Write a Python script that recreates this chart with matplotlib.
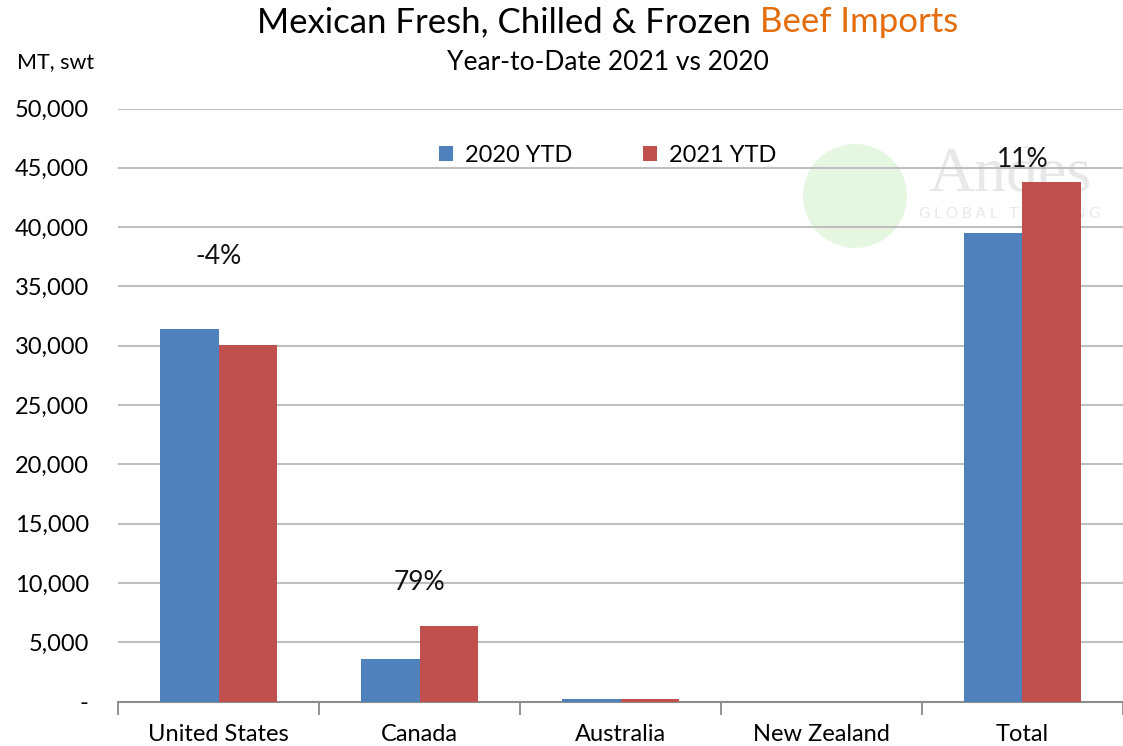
import matplotlib.pyplot as plt
import numpy as np
from matplotlib.patches import Ellipse
from matplotlib.ticker import FuncFormatter

# Mexican beef imports, metric tons shipped weight
countries = ['United States', 'Canada', 'Australia', 'New Zealand', 'Total']
ytd_2020 = [31400, 3550, 180, 0, 39500]
ytd_2021 = [30050, 6350, 190, 0, 43800]
change_labels = ['-4%', '79%', '', '', '11%']
label_y = [37500, 10000, None, None, 45700]

blue = '#4F81BD'
red = '#C0504D'
orange = '#E46C0A'
font = 'Lato'

plt.rcParams['font.family'] = [font, 'DejaVu Sans']

fig = plt.figure(figsize=(11.23, 7.46), dpi=100)
ax = fig.add_axes([118 / 1123, 1 - 701.5 / 746, 1 - 118 / 1123, (701.5 - 108.5) / 746])
ax.set_facecolor('none')

x = np.arange(len(countries))
w = 0.29
ax.bar(x - w / 2, ytd_2020, w, color=blue, label='2020 YTD', zorder=3)
ax.bar(x + w / 2, ytd_2021, w, color=red, label='2021 YTD', zorder=3)

for xi, txt, yy in zip(x, change_labels, label_y):
    if txt:
        ax.text(xi, yy, txt, ha='center', va='center', fontsize=19, color='#111111')

ax.set_xlim(-0.5, len(countries) - 0.5)
ax.set_ylim(0, 50000)
ax.set_yticks(np.arange(0, 50001, 5000))
ax.yaxis.set_major_formatter(FuncFormatter(lambda v, p: '-' if v == 0 else f'{v:,.0f}'))
ax.grid(axis='y', color='#BFBFBF', linewidth=1.5, zorder=0)
ax.set_axisbelow(True)

ax.set_xticks(x)
ax.set_xticklabels(countries, fontsize=17)
ax.set_xticks(np.arange(-0.5, len(countries)), minor=True)
ax.tick_params(axis='x', which='major', length=0, pad=16)
ax.tick_params(axis='x', which='minor', length=9, color='#7F7F7F', width=1.2)
ax.tick_params(axis='y', length=0, pad=21, labelsize=17)
for side in ['top', 'right', 'left']:
    ax.spines[side].set_visible(False)
ax.spines['bottom'].set_color('#8C8C8C')
ax.spines['bottom'].set_linewidth(1.5)

ax.legend(loc='upper center', bbox_to_anchor=(0.487, 0.975), ncol=2, frameon=False,
          fontsize=17, handlelength=0.6, handleheight=0.6, columnspacing=3.0,
          handletextpad=0.5)

# faint company watermark, kept behind the bars
fig.patches.append(Ellipse((855 / 1123, 1 - 196 / 746), 104 / 1123, 104 / 746,
                           transform=fig.transFigure, facecolor='#D4F2CC',
                           edgecolor='none', alpha=0.6, zorder=-2))
fig.text(1010 / 1123, 1 - 176 / 746, 'Andes', fontsize=46, family='Liberation Serif',
         color='#E8E8E8', ha='center', va='center', zorder=-1)
fig.text(1010 / 1123, 1 - 214 / 746, 'G L O B A L   T R A D I N G', fontsize=11,
         color='#E8E8E8', ha='center', va='center', zorder=-1)

# two-colour title
title_y = 1 - 22 / 746
t1 = fig.text(0, title_y, 'Mexican Fresh, Chilled & Frozen ', fontsize=25,
              color='black', va='center')
t2 = fig.text(0, title_y, 'Beef Imports', fontsize=25, color=orange, va='center')
r = fig.canvas.get_renderer()
w1 = t1.get_window_extent(r).width
w2 = t2.get_window_extent(r).width
x0 = (608 - (w1 + w2) / 2) / 1123
t1.set_x(x0)
t2.set_x(x0 + w1 / 1123)

fig.text(608 / 1123, 1 - 62 / 746, 'Year-to-Date 2021 vs 2020', fontsize=19,
         ha='center', va='center')
fig.text(56 / 1123, 1 - 62 / 746, 'MT, swt', fontsize=15.5, ha='center', va='center')

fig.savefig('out.png', dpi=100)
